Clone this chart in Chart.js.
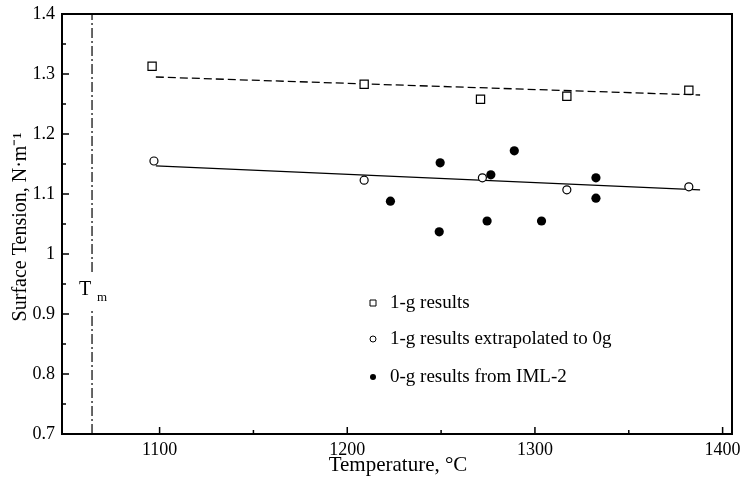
<!DOCTYPE html>
<html>
<head>
<meta charset="utf-8">
<script src="https://cdn.jsdelivr.net/npm/chart.js@4.4.1/dist/chart.umd.min.js"></script>
<style>
  html, body { margin: 0; padding: 0; background: #fff; }
  #wrap { width: 741px; height: 478px; }
</style>
</head>
<body>
<div id="wrap"><canvas id="surfaceChart" width="741" height="478"></canvas></div>
<script>
// data
const oneG_T = [1096, 1209, 1271, 1317, 1382];
const oneG_S = [1.313, 1.283, 1.258, 1.263, 1.273];

const zeroGext_T = [1097, 1209, 1272, 1317, 1382];
const zeroGext_S = [1.155, 1.123, 1.127, 1.107, 1.112];

const iml2_T = [1223, 1249.5, 1249, 1276.5, 1274.5, 1289, 1303.5, 1332.5, 1332.5];
const iml2_S = [1.088, 1.152, 1.037, 1.132, 1.055, 1.172, 1.055, 1.127, 1.093];

// fitted lines (end points)
const fit1g_T = [1098, 1388];
const fit1g_S = [1.295, 1.265];
const fit0g_T = [1098, 1388];
const fit0g_S = [1.147, 1.107];

const meltT = 1064;
const meltGap = [0.97, 0.91];

const xTicks = [1100, 1200, 1300, 1400];
const yTicks = [0.7, 0.8, 0.9, 1.0, 1.1, 1.2, 1.3, 1.4];

const serif = '"Liberation Serif", "Times New Roman", serif';

function pts(xs, ys) {
  return xs.map((x, i) => ({ x: x, y: ys[i] }));
}

const meltLine = [
  { x: meltT, y: 0.7 }, { x: meltT, y: meltGap[1] }, { x: meltT, y: NaN },
  { x: meltT, y: meltGap[0] }, { x: meltT, y: 1.4 }
];

// ticks pointing into the plot, box border, titles, legend, Tm label
const decorPlugin = {
  id: 'decor',
  afterDraw(chart) {
    const ctx = chart.ctx;
    const a = chart.chartArea;
    const xs = chart.scales.x, ys = chart.scales.y;
    ctx.save();
    ctx.strokeStyle = '#000';
    ctx.lineWidth = 1.5;
    ctx.beginPath();
    for (let v = 1100; v <= 1400; v += 50) {
      const px = xs.getPixelForValue(v);
      const len = v % 100 === 0 ? 7 : 4;
      ctx.moveTo(px, a.bottom); ctx.lineTo(px, a.bottom - len);
    }
    for (let i = 0; i <= 14; i++) {
      const v = 0.7 + i * 0.05;
      const py = ys.getPixelForValue(v);
      const len = i % 2 === 0 ? 7 : 4;
      ctx.moveTo(a.left, py); ctx.lineTo(a.left + len, py);
    }
    ctx.stroke();
    ctx.lineWidth = 2;
    ctx.strokeRect(a.left, a.top, a.right - a.left, a.bottom - a.top);

    ctx.fillStyle = '#000';
    // x title
    ctx.font = '21px ' + serif;
    ctx.textAlign = 'center';
    ctx.textBaseline = 'middle';
    ctx.fillText('Temperature, \u00B0C', 398, 465);
    // y title
    ctx.font = '20px ' + serif;
    ctx.save();
    ctx.translate(21, 227);
    ctx.rotate(-Math.PI / 2);
    ctx.fillText('Surface Tension, N\u00B7m\u207B\u00B9', 0, 0);
    ctx.restore();

    // Tm label
    ctx.textAlign = 'left';
    ctx.font = '20px ' + serif;
    ctx.fillText('T', 79, 290);
    ctx.font = '13px ' + serif;
    ctx.fillText('m', 97, 298);

    // legend
    const rows = [
      { ds: 0, y: 303 }, { ds: 1, y: 339 }, { ds: 2, y: 377 }
    ];
    ctx.font = '19px ' + serif;
    rows.forEach(r => {
      const d = chart.data.datasets[r.ds];
      ctx.lineWidth = 1;
      ctx.beginPath();
      if (d.pointStyle === 'rect') {
        ctx.rect(370, r.y - 3, 6, 6);
        ctx.stroke();
      } else {
        ctx.arc(373, r.y, 3, 0, Math.PI * 2);
        if (d.pointBackgroundColor === '#000') ctx.fill(); else ctx.stroke();
      }
      ctx.fillText(d.label, 390, r.y);
    });
    ctx.restore();
  }
};

new Chart(document.getElementById('surfaceChart'), {
  type: 'scatter',
  data: {
    datasets: [
      {
        label: '1-g results',
        data: pts(oneG_T, oneG_S),
        pointStyle: 'rect',
        pointRadius: 5.8,
        pointBorderWidth: 1.2,
        pointBorderColor: '#000',
        pointBackgroundColor: '#fff'
      },
      {
        label: '1-g results extrapolated to 0g',
        data: pts(zeroGext_T, zeroGext_S),
        pointStyle: 'circle',
        pointRadius: 4,
        pointBorderWidth: 1.2,
        pointBorderColor: '#000',
        pointBackgroundColor: '#fff'
      },
      {
        label: '0-g results from IML-2',
        data: pts(iml2_T, iml2_S),
        pointStyle: 'circle',
        pointRadius: 4.6,
        pointBorderWidth: 0,
        pointBorderColor: '#000',
        pointBackgroundColor: '#000'
      },
      {
        label: 'fit 1-g',
        data: pts(fit1g_T, fit1g_S),
        showLine: true,
        borderColor: '#000',
        borderWidth: 1.3,
        borderDash: [8, 4],
        pointRadius: 0,
        order: 5
      },
      {
        label: 'fit 0-g',
        data: pts(fit0g_T, fit0g_S),
        showLine: true,
        borderColor: '#000',
        borderWidth: 1.3,
        pointRadius: 0,
        order: 5
      },
      {
        label: 'Tm',
        data: meltLine,
        showLine: true,
        spanGaps: false,
        borderColor: '#000',
        borderWidth: 1.2,
        borderDash: [10, 3, 2, 3],
        pointRadius: 0
      }
    ]
  },
  options: {
    responsive: false,
    animation: false,
    layout: { padding: { top: 14, right: 9, left: 0, bottom: 0 } },
    plugins: {
      legend: { display: false },
      tooltip: { enabled: false }
    },
    scales: {
      x: {
        type: 'linear',
        min: 1048,
        max: 1405,
        afterBuildTicks: s => { s.ticks = xTicks.map(v => ({ value: v })); },
        afterFit: s => { s.height = 44; s.paddingRight = 0; s.paddingLeft = 0; },
        grid: { display: false, drawTicks: false },
        border: { display: false },
        ticks: {
          padding: 5,
          color: '#000',
          font: { family: serif, size: 18 },
          maxRotation: 0,
          callback: v => String(v)
        }
      },
      y: {
        type: 'linear',
        min: 0.7,
        max: 1.4,
        afterBuildTicks: s => { s.ticks = yTicks.map(v => ({ value: v })); },
        afterFit: s => { s.width = 62; s.paddingTop = 0; s.paddingBottom = 0; },
        grid: { display: false, drawTicks: false },
        border: { display: false },
        ticks: {
          padding: 7,
          color: '#000',
          font: { family: serif, size: 18 },
          callback: v => String(Math.round(v * 10) / 10)
        }
      }
    }
  },
  plugins: [decorPlugin]
});
</script>
</body>
</html>
